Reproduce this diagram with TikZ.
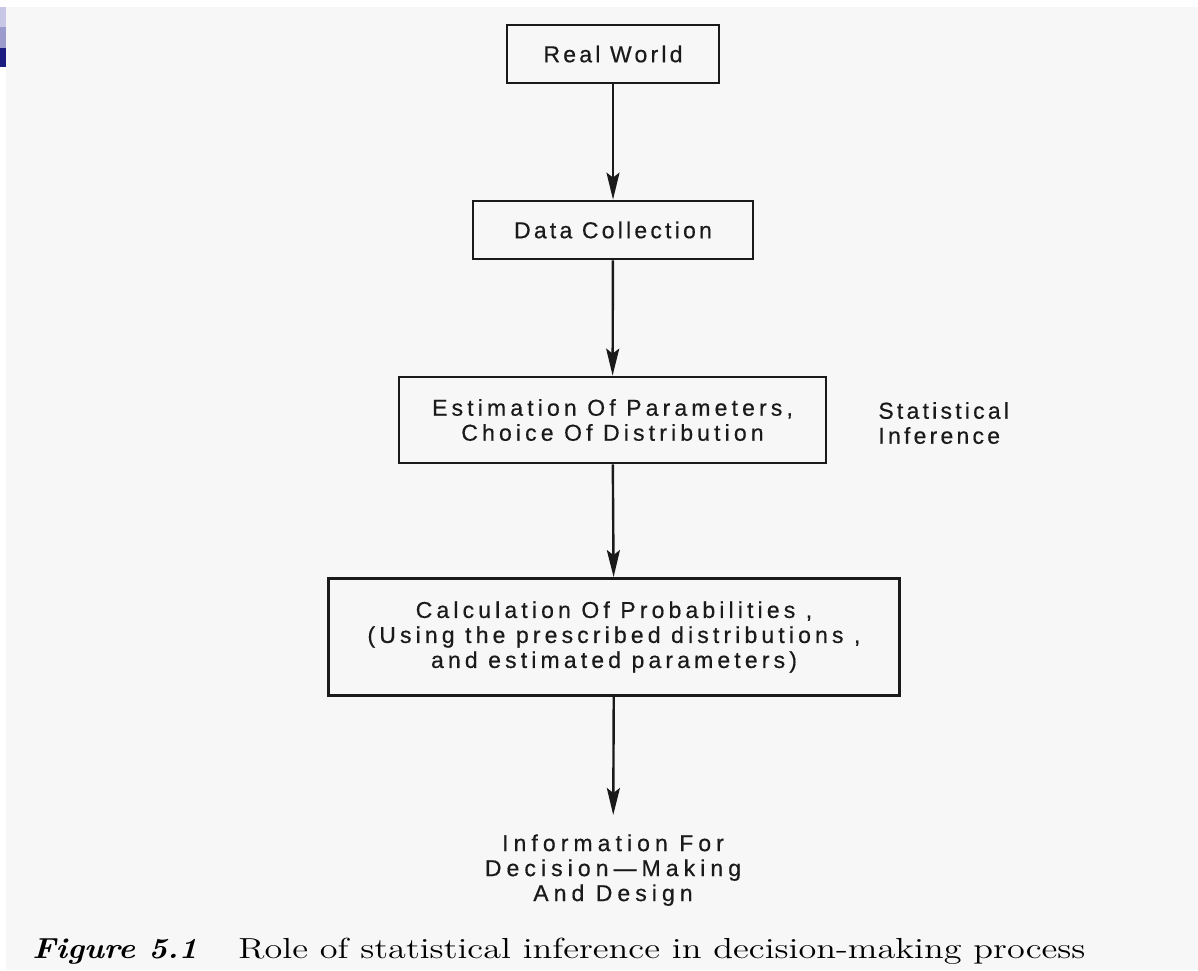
\documentclass[tikz,border=0pt]{standalone}
\usepackage{fontspec}
\usetikzlibrary{arrows.meta}
\newfontfamily\smallboxfont{Liberation Sans}[LetterSpace=14,FakeBold=0.5]
\newfontfamily\bigboxfont{Liberation Sans}[LetterSpace=18,FakeBold=0.5]
\newfontfamily\widefont{Liberation Sans}[LetterSpace=22,FakeBold=0.5]
\definecolor{bggray}{HTML}{F7F7F7}
\definecolor{inkc}{HTML}{1A1A1A}
\definecolor{blueA}{HTML}{C8C8E6}
\definecolor{blueB}{HTML}{9B9BCD}
\definecolor{blueC}{HTML}{1C1C80}
\tikzset{
  flowbox/.style={draw=inkc, line width=1.4pt, fill=bggray, text=inkc, align=center,
    inner sep=0pt, font=\smallboxfont\fontsize{11.5}{12.5}\selectfont},
  bigbox/.style={flowbox, font=\bigboxfont\fontsize{11.5}{12.5}\selectfont},
  flowarrow/.style={draw=inkc, line width=1.2pt,
    -{Stealth[length=13.5pt,width=6.5pt,inset=2.5pt]}},
  plaintext/.style={text=inkc, inner sep=0pt, font=\smallboxfont\fontsize{11.5}{12.5}\selectfont}
}
\begin{document}
\begin{tikzpicture}[x=0.5pt,y=-0.5pt]
\useasboundingbox (0,0) rectangle (1198,970);
\fill[white] (0,0) rectangle (1198,970);
\fill[bggray] (6,7) rectangle (1198,970);
\fill[blueA] (0,7) rectangle (6,27);
\fill[blueB] (0,27) rectangle (6,48);
\fill[blueC] (0,48) rectangle (6,67);

\node[flowbox, minimum width=106pt, minimum height=29pt] (rw) at (613,54) {Real World};
\node[flowbox, minimum width=140pt, minimum height=29pt] (dc) at (613,230) {Data Collection};
\node[bigbox, minimum width=213.5pt, minimum height=43pt] (est) at (612.5,420)
  {Estimation Of Parameters,\\Choice Of Distribution};
\node[bigbox, minimum width=285.5pt, minimum height=58.5pt] (calc) at (614,637)
  {Calculation Of Probabilities ,\\(Using the prescribed distributions ,\\and estimated parameters)};
\node[plaintext, anchor=west, align=left] (si) at (878,423) {Statistical\\Inference};
\node[text=inkc, inner xsep=0pt, inner ysep=9.5pt, anchor=north, align=center,
  font=\widefont\fontsize{11.5}{12.5}\selectfont] (info) at (613,815)
  {Information For\\Decision—Making\\And Design};

\draw[flowarrow] (rw) -- (dc);
\draw[flowarrow] (dc) -- (est);
\draw[flowarrow] (est) -- (calc);
\draw[flowarrow] (calc) -- (info);

\node[anchor=base west, inner sep=0pt, text=black] (cap) at (32,958)
  {\resizebox{82.5pt}{\height}{\fontsize{14.5}{16}\selectfont\textbf{\textit{Figure 5.1}}}\hspace{20.5pt}\resizebox{423.5pt}{\height}{\fontsize{14.5}{16}\selectfont Role of statistical inference in decision-making process}};
\end{tikzpicture}
\end{document}
